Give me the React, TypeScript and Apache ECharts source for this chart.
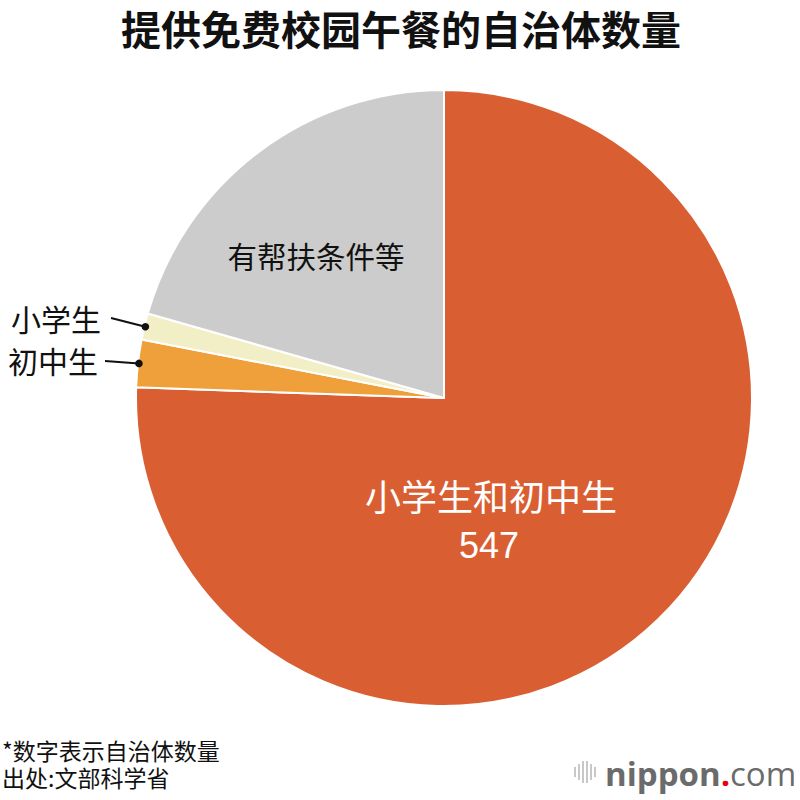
import React, { useEffect, useRef } from "react";
import * as echarts from "echarts";

const categories = ["小学生和初中生", "初中生", "小学生", "有帮扶条件等"];
const values = [547, 18, 10, 149];
const colors = ["#D95F33", "#F0A03A", "#F2EEC6", "#CCCCCC"];
const titleText = "提供免费校园午餐的自治体数量";
const notes = ["*数字表示自治体数量", "出处:文部科学省"];

const CX = 444;
const CY = 398;
const R = 308;
const CJK = '"Noto Sans CJK SC", "Noto Sans", sans-serif';

function edgePoint(index: number) {
  const total = values.reduce((a, b) => a + b, 0);
  let before = 0;
  for (let i = 0; i < index; i++) before += values[i];
  const mid = ((before + values[index] / 2) / total) * 2 * Math.PI; // clockwise from top
  return [CX + Math.sin(mid) * (R - 1), CY - Math.cos(mid) * (R - 1)];
}

export default function App() {
  const ref = useRef<HTMLDivElement>(null);
  useEffect(() => {
    document.body.style.margin = "0";
    const chart = echarts.init(ref.current!, null, { renderer: "svg" });
    const pYellow = edgePoint(2);
    const pOrange = edgePoint(1);
    chart.setOption({
      animation: false,
      backgroundColor: "#ffffff",
      series: [
        {
          type: "pie",
          center: [CX, CY],
          radius: [0, R],
          startAngle: 90,
          clockwise: true,
          label: { show: false },
          labelLine: { show: false },
          itemStyle: { borderColor: "#ffffff", borderWidth: 2 },
          emphasis: { disabled: true },
          data: categories.map((c, i) => ({
            name: c,
            value: values[i],
            itemStyle: { color: colors[i] },
          })),
        },
      ],
      graphic: [
        {
          type: "text",
          z: 100,
          x: 401,
          y: 28,
          style: {
            text: titleText,
            fill: "#111",
            fontSize: 40,
            fontWeight: "bold",
            fontFamily: CJK,
            align: "center",
            verticalAlign: "middle",
          },
        },
        {
          type: "text",
          z: 100,
          x: 491,
          y: 495,
          style: {
            text: categories[0],
            fill: "#fff",
            fontSize: 36,
            fontFamily: CJK,
            align: "center",
            verticalAlign: "middle",
          },
        },
        {
          type: "text",
          z: 100,
          x: 489,
          y: 545,
          style: {
            text: String(values[0]),
            fill: "#fff",
            fontSize: 36,
            fontFamily: '"Liberation Sans", Arial, sans-serif',
            align: "center",
            verticalAlign: "middle",
          },
        },
        {
          type: "text",
          z: 100,
          x: 316,
          y: 255,
          style: {
            text: categories[3],
            fill: "#111",
            fontSize: 29.5,
            fontFamily: CJK,
            align: "center",
            verticalAlign: "middle",
          },
        },
        {
          type: "text",
          z: 100,
          x: 101,
          y: 318,
          style: {
            text: categories[2],
            fill: "#111",
            fontSize: 30,
            fontFamily: CJK,
            align: "right",
            verticalAlign: "middle",
          },
        },
        {
          type: "text",
          z: 100,
          x: 98,
          y: 360,
          style: {
            text: categories[1],
            fill: "#111",
            fontSize: 30,
            fontFamily: CJK,
            align: "right",
            verticalAlign: "middle",
          },
        },
        {
          type: "line",
          z: 100,
          shape: { x1: 111, y1: 318, x2: pYellow[0], y2: pYellow[1] },
          style: { stroke: "#111", lineWidth: 2 },
        },
        {
          type: "circle",
          z: 100,
          shape: { cx: pYellow[0], cy: pYellow[1], r: 3.8 },
          style: { fill: "#111" },
        },
        {
          type: "line",
          z: 100,
          shape: { x1: 105, y1: 361, x2: pOrange[0], y2: pOrange[1] },
          style: { stroke: "#111", lineWidth: 2 },
        },
        {
          type: "circle",
          z: 100,
          shape: { cx: pOrange[0], cy: pOrange[1], r: 3.8 },
          style: { fill: "#111" },
        },
        {
          type: "text",
          z: 100,
          x: 2,
          y: 763,
          style: {
            text: notes.join("\n"),
            fill: "#111",
            fontSize: 23,
            lineHeight: 27,
            fontFamily: CJK,
            align: "left",
            verticalAlign: "middle",
          },
        },
        // nippon.com logo
        ...[0, 1, 2, 3, 4, 5].map((i) => ({
          type: "rect",
          z: 100,
          shape: {
            x: 574 + i * 4,
            y: 772 - [5, 8, 11, 11, 8, 5][i],
            width: 2,
            height: [10, 16, 22, 22, 16, 10][i],
          },
          style: { fill: "#c8c8c8" },
        })),
        {
          type: "text",
          z: 100,
          x: 605,
          y: 773,
          style: {
            text: "{a|nippon}{b|.}{c|com}",
            verticalAlign: "middle",
            align: "left",
            rich: {
              a: { fontSize: 33, fontWeight: "bold", fill: "#6b6b6b", fontFamily: '"Open Sans", sans-serif' },
              b: { fontSize: 33, fontWeight: "bold", fill: "#e60012", fontFamily: '"Open Sans", sans-serif' },
              c: { fontSize: 33, fontWeight: "normal", fill: "#6b6b6b", fontFamily: '"Open Sans", sans-serif' },
            },
          },
        },
      ],
    });
    return () => chart.dispose();
  }, []);
  return <div ref={ref} style={{ width: 800, height: 800 }} />;
}
